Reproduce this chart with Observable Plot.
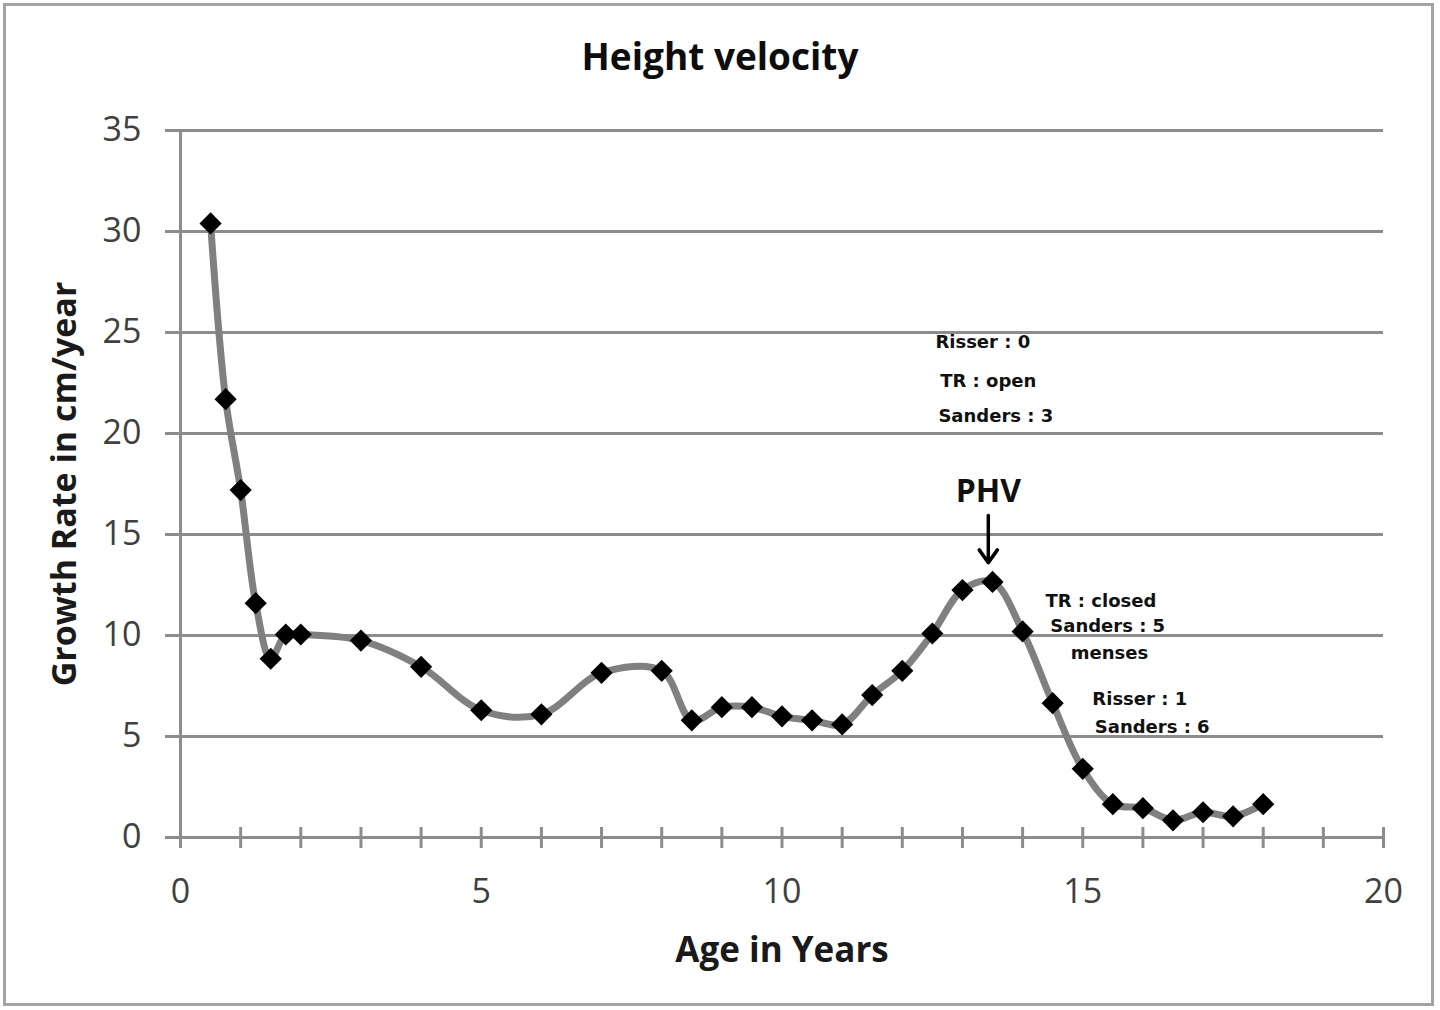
<!DOCTYPE html>
<html>
<head>
<meta charset="utf-8">
<script src="https://cdn.jsdelivr.net/npm/d3@7"></script>
<script src="https://cdn.jsdelivr.net/npm/@observablehq/plot@0.6"></script>
<style>
  html, body { margin: 0; padding: 0; background: #fff; }
  #wrap { position: relative; width: 1440px; height: 1010px; background: #fff; overflow: hidden; }
  #border { position: absolute; left: 3px; top: 3px; width: 1431px; height: 1003px; border: 3px solid #a3a3a3; box-sizing: border-box; pointer-events: none; }
  #title { height: 100px; line-height: 112px; text-align: center; font-family: "Open Sans", sans-serif; font-weight: 700; font-size: 37px; color: #0d0d0d; }
  #chart svg { display: block; }
</style>
</head>
<body>
<div id="wrap">
  <div id="title">Height velocity</div>
  <div id="chart"></div>
  <div id="border"></div>
</div>
<script>
// ---- data ----
const ages  = [0.5, 0.75, 1, 1.25, 1.5, 1.75, 2, 3, 4, 5, 6, 7, 8, 8.5, 9, 9.5, 10, 10.5, 11, 11.5, 12, 12.5, 13, 13.5, 14, 14.5, 15, 15.5, 16, 16.5, 17, 17.5, 18];
const rates = [30.4, 21.7, 17.2, 11.6, 8.85, 10.05, 10.05, 9.75, 8.45, 6.3, 6.1, 8.15, 8.25, 5.8, 6.45, 6.45, 6.0, 5.8, 5.6, 7.05, 8.25, 10.1, 12.25, 12.65, 10.2, 6.65, 3.4, 1.65, 1.45, 0.85, 1.25, 1.05, 1.65];

const yTicks = [0, 5, 10, 15, 20, 25, 30, 35];
const xTickLabels = [0, 5, 10, 15, 20];
const xMinorTicks = d3.range(0, 21, 1);

const xLabel = "Age in Years";
const yLabel = "Growth Rate in cm/year";

// handwritten notes (data coordinates)
const noteLabels = ["Risser : 0", "TR : open", "Sanders : 3", "TR : closed", "Sanders : 5", "menses", "Risser : 1", "Sanders : 6"];
const noteX      = [12.55, 12.63, 12.6, 14.38, 14.46, 14.8, 15.16, 15.2];
const noteY      = [24.5, 22.57, 20.84, 11.72, 10.45, 9.1, 6.85, 5.45];

const phvLabel = ["PHV"];
const phvX = [13.43];
const phvY = [17.1];
const phvArrowY1 = [15.94];
const phvArrowY2 = [13.6];

// ---- tables built from the arrays ----
const data = ages.map((a, i) => ({age: a, rate: rates[i]}));
const notes = noteLabels.map((t, i) => ({label: t, x: noteX[i], y: noteY[i]}));
const phv = phvLabel.map((t, i) => ({label: t, x: phvX[i], y: phvY[i], y1: phvArrowY1[i], y2: phvArrowY2[i]}));

const gridColor = "#8c8c8c";
const tickColor = "#404040";

const chart = Plot.plot({
  width: 1440,
  height: 910,
  marginTop: 30,
  marginBottom: 173,
  marginLeft: 180,
  marginRight: 57,
  style: {fontFamily: "'Open Sans', sans-serif", background: "transparent", overflow: "visible"},
  x: {domain: [0, 20]},
  y: {domain: [0, 35]},
  marks: [
    Plot.gridY(yTicks, {stroke: gridColor, strokeOpacity: 1, strokeWidth: 3}),
    Plot.axisY(yTicks, {tickSize: 15, tickPadding: 24, stroke: gridColor, strokeWidth: 3, fill: tickColor, fontSize: 34, label: null}),
    Plot.ruleX([0], {stroke: gridColor, strokeWidth: 3}),
    Plot.ruleX(xMinorTicks, {x: d => d, y1: 0, y2: 0, insetTop: -10, insetBottom: -11, stroke: gridColor, strokeWidth: 3}),
    Plot.axisX(xTickLabels, {tickSize: 0, tickPadding: 41, fill: tickColor, fontSize: 34, label: null}),
    Plot.text([xLabel], {frameAnchor: "bottom", dy: 113, lineAnchor: "middle", textAnchor: "middle", fontSize: 35, fontWeight: "bold", fill: "#1a1a1a"}),
    Plot.text([yLabel], {frameAnchor: "left", dx: -115, rotate: -90, textAnchor: "middle", lineAnchor: "middle", fontSize: 34, fontWeight: "bold", fill: "#1a1a1a"}),
    Plot.line(data, {x: "age", y: "rate", curve: "catmull-rom", stroke: "#808080", strokeWidth: 7}),
    Plot.dot(data, {x: "age", y: "rate", symbol: "diamond2", r: 10, fill: "#000", stroke: null}),
    Plot.text(notes, {x: "x", y: "y", text: "label", textAnchor: "start", lineAnchor: "middle", fontSize: 18, fontWeight: 600, fill: "#111", fontFamily: "'DejaVu Sans', sans-serif"}),
    Plot.text(phv, {x: "x", y: "y", text: "label", fontSize: 32, fontWeight: "bold", fill: "#111"}),
    Plot.arrow(phv, {x: "x", y1: "y1", y2: "y2", stroke: "#000", strokeWidth: 3.5, headLength: 18, headAngle: 70})
  ]
});
document.getElementById("chart").appendChild(chart);
</script>
</body>
</html>
